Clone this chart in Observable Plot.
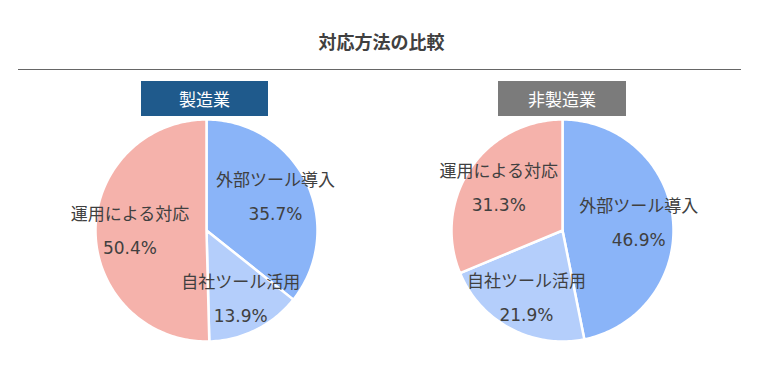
<!DOCTYPE html>
<html>
<head>
<meta charset="utf-8">
<script src="https://cdn.jsdelivr.net/npm/d3@7"></script>
<script src="https://cdn.jsdelivr.net/npm/@observablehq/plot@0.6"></script>
<style>
  html, body { margin: 0; padding: 0; background: #fff; }
  body { font-family: "Noto Sans CJK JP", "Noto Sans", sans-serif; }
  #wrap { position: relative; width: 763px; height: 377px; overflow: hidden; }
  #title { position: absolute; left: 0; width: 763px; top: 28px; text-align: center;
           font-size: 18px; font-weight: bold; color: #404040; line-height: 26px; }
  #rule { position: absolute; left: 18px; top: 69px; width: 723px; height: 0;
          border-top: 1.5px solid #666; }
  .hdr { position: absolute; top: 81px; height: 35px; color: #fff; font-size: 17px;
         line-height: 35px; text-align: center; }
  .pie { position: absolute; top: 114px; }
  .pie svg { background: none !important; overflow: visible; }
</style>
</head>
<body>
<div id="wrap">
  <div id="title"></div>
  <div id="rule"></div>
</div>
<script>
const title = "対応方法の比較";
const groups = ["製造業", "非製造業"];
const groupColors = ["#1f5a8c", "#7b7b7b"];
const categories = ["外部ツール導入", "自社ツール活用", "運用による対応"];
const sliceColors = ["#8ab4f8", "#b4cefb", "#f5b2ab"];
const valuesManufacturing = [35.7, 13.9, 50.4];
const valuesNonManufacturing = [46.9, 21.9, 31.3];
const seriesValues = [valuesManufacturing, valuesNonManufacturing];

const wrap = document.getElementById("wrap");
document.getElementById("title").textContent = title;

const headerBoxes = [{left: 141, width: 127}, {left: 498, width: 128}];
const pieLefts = [36, 392];

function buildSlices(values) {
  const total = d3.sum(values);
  const slices = [];
  const labels = [];
  let acc = 0;
  values.forEach((v, i) => {
    const a0 = acc / total * 2 * Math.PI;
    acc += v;
    const a1 = acc / total * 2 * Math.PI;
    const n = Math.max(2, Math.ceil((a1 - a0) / 0.02));
    slices.push({key: categories[i], color: sliceColors[i], x: 0, y: 0});
    for (let k = 0; k <= n; k++) {
      const a = a0 + (a1 - a0) * k / n;
      slices.push({key: categories[i], color: sliceColors[i], x: Math.sin(a), y: Math.cos(a)});
    }
    slices.push({key: categories[i], color: sliceColors[i], x: 0, y: 0});
    const m = (a0 + a1) / 2;
    labels.push({x: 0.69 * Math.sin(m), y: 0.69 * Math.cos(m),
                 text: categories[i] + "\n" + v.toFixed(1) + "%"});
  });
  return {slices, labels};
}

groups.forEach((g, gi) => {
  const box = document.createElement("div");
  box.className = "hdr";
  box.style.left = headerBoxes[gi].left + "px";
  box.style.width = headerBoxes[gi].width + "px";
  box.style.background = groupColors[gi];
  box.textContent = g;
  wrap.appendChild(box);

  const {slices, labels} = buildSlices(seriesValues[gi]);
  const chart = Plot.plot({
    width: 340, height: 232,
    marginLeft: 59, marginRight: 59, marginTop: 5, marginBottom: 5,
    x: {domain: [-1, 1], axis: null},
    y: {domain: [-1, 1], axis: null},
    style: {background: "none", fontFamily: "'DejaVu Sans', 'Noto Sans CJK JP', sans-serif", overflow: "visible"},
    marks: [
      Plot.line(slices, {x: "x", y: "y", z: "key", fill: "color", stroke: "white",
                         strokeWidth: 2.5, strokeLinejoin: "round", curve: "linear"}),
      Plot.text(labels, {x: "x", y: "y", text: "text", fontSize: 17, lineHeight: 2, dy: -5,
                         fill: "#404040", textAnchor: "middle"})
    ]
  });
  const holder = document.createElement("div");
  holder.className = "pie";
  holder.style.left = pieLefts[gi] + "px";
  holder.appendChild(chart);
  wrap.appendChild(holder);
});
</script>
</body>
</html>
